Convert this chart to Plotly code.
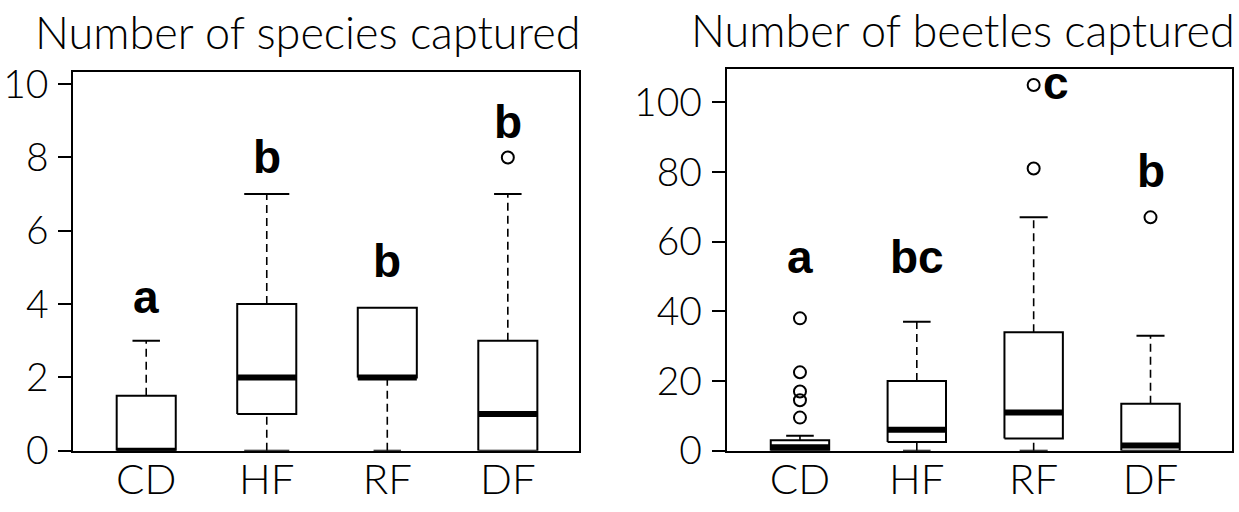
import plotly.graph_objects as go

groups = ["CD", "HF", "RF", "DF"]

# ---- Panel 1: Number of species captured ----
sp_lo = [0, 0, 0, 0]
sp_q1 = [0, 1, 2, 0]
sp_med = [0, 2, 2, 1]
sp_q3 = [1.5, 4, 3.9, 3]
sp_hi = [3, 7, 3.9, 7]
sp_out_grp = ["DF"]
sp_out_val = [8]
sp_letters = ["a", "b", "b", "b"]
sp_letter_val = [4.19, 8.0, 5.18, 8.96]

# ---- Panel 2: Number of beetles captured ----
bt_lo = [0, 0, 0, 0]
bt_q1 = [0, 2.5, 3.5, 0]
bt_med = [1, 6, 11, 1.5]
bt_q3 = [3, 20, 34, 13.5]
bt_hi = [4.3, 37, 67, 33]
bt_out_grp = ["CD", "CD", "CD", "CD", "CD", "RF", "RF", "DF"]
bt_out_val = [38, 22.5, 17, 14.5, 9.5, 81, 105, 67]
bt_letters = ["a", "bc", "c", "b"]
bt_letter_val = [55.5, 55.5, 105.7, 80.4]

titles = ["Number of species captured", "Number of beetles captured"]

# ---- styles ----
FONT = "Liberation Sans, Arial, sans-serif"
THIN = "Lato, Liberation Sans, sans-serif"
panels = [
    dict(lo=sp_lo, q1=sp_q1, med=sp_med, q3=sp_q3, hi=sp_hi,
         og=sp_out_grp, ov=sp_out_val, let=sp_letters, lv=sp_letter_val,
         xa="x", ya="y", half=0.245, caps=[0.114, 0.187, 0.114, 0.114],
         let_dx=[0, 0, 0, 0]),
    dict(lo=bt_lo, q1=bt_q1, med=bt_med, q3=bt_q3, hi=bt_hi,
         og=bt_out_grp, ov=bt_out_val, let=bt_letters, lv=bt_letter_val,
         xa="x2", ya="y2", half=0.25, caps=[0.118, 0.118, 0.12, 0.12],
         let_dx=[0, 0, 0.19, 0]),
]

fig = go.Figure()
annotations = []

for p in panels:
    bx, by, mx, my, wx, wy, cx, cy = [], [], [], [], [], [], [], []
    for i, g in enumerate(groups):
        c = i + 1
        h = p["half"]
        bx += [c - h, c + h, c + h, c - h, c - h, None]
        by += [p["q1"][i], p["q1"][i], p["q3"][i], p["q3"][i], p["q1"][i], None]
        mx += [c - h, c + h, None]
        my += [p["med"][i], p["med"][i], None]
        cw = p["caps"][i]
        if p["hi"][i] > p["q3"][i]:
            wx += [c, c, None]
            wy += [p["q3"][i], p["hi"][i], None]
            cx += [c - cw, c + cw, None]
            cy += [p["hi"][i], p["hi"][i], None]
        if p["lo"][i] < p["q1"][i]:
            wx += [c, c, None]
            wy += [p["lo"][i], p["q1"][i], None]
            cx += [c - cw, c + cw, None]
            cy += [p["lo"][i], p["lo"][i], None]
    common = dict(xaxis=p["xa"], yaxis=p["ya"], showlegend=False,
                  hoverinfo="skip", cliponaxis=False)
    fig.add_trace(go.Scatter(x=wx, y=wy, mode="lines",
                             line=dict(color="black", width=1.6, dash="8px,5px"), **common))
    fig.add_trace(go.Scatter(x=cx, y=cy, mode="lines",
                             line=dict(color="black", width=2), **common))
    fig.add_trace(go.Scatter(x=bx, y=by, mode="lines",
                             line=dict(color="black", width=2), **common))
    fig.add_trace(go.Scatter(x=mx, y=my, mode="lines",
                             line=dict(color="black", width=6), **common))
    ox = [groups.index(g) + 1 for g in p["og"]]
    fig.add_trace(go.Scatter(x=ox, y=p["ov"], mode="markers",
                             marker=dict(symbol="circle-open", size=12, color="black",
                                         line=dict(width=2, color="black")), **common))
    for i, t in enumerate(p["let"]):
        annotations.append(dict(
            x=i + 1 + p["let_dx"][i], y=p["lv"][i], xref=p["xa"], yref=p["ya"],
            text="<b>%s</b>" % t, showarrow=False, xanchor="center", yanchor="middle",
            font=dict(family=FONT, size=46, color="black")))

annotations.append(dict(x=308 / 1239, y=0.938, xref="paper", yref="paper",
                        text=titles[0], showarrow=False, xanchor="center", yanchor="middle",
                        font=dict(family=THIN, size=45, weight=300, color="black")))
annotations.append(dict(x=963 / 1239, y=0.942, xref="paper", yref="paper",
                        text=titles[1], showarrow=False, xanchor="center", yanchor="middle",
                        font=dict(family=THIN, size=45, weight=300, color="black")))

xcommon = dict(tickmode="array", tickvals=[1, 2, 3, 4], ticktext=groups,
               showline=True, mirror=True, linecolor="black", linewidth=2,
               ticks="", showgrid=False, zeroline=False, automargin=False,
               ticklabelstandoff=-9,
               tickfont=dict(family=THIN, size=42, weight=300, color="black"))
ycommon = dict(showline=True, mirror=True, linecolor="black", linewidth=2,
               ticks="outside", ticklen=13, tickwidth=2, tickcolor="black",
               showgrid=False, zeroline=False, automargin=False,
               ticklabelstandoff=2,
               tickfont=dict(family=THIN, size=39, weight=300, color="black"))

fig.update_layout(
    template="none",
    width=1239, height=512,
    margin=dict(l=0, r=0, t=0, b=0, pad=0),
    paper_bgcolor="white", plot_bgcolor="white",
    xaxis=dict(domain=[73.3 / 1239, 578.7 / 1239], range=[0.395, 4.588], anchor="y", **xcommon),
    yaxis=dict(domain=[1 - 450.7 / 512, 1 - 71.7 / 512], range=[0, 10.34], anchor="x",
               tickvals=[0, 2, 4, 6, 8, 10], **ycommon),
    xaxis2=dict(domain=[726.7 / 1239, 1232.3 / 1239], range=[0.373, 4.70], anchor="y2", **xcommon),
    yaxis2=dict(domain=[1 - 450.7 / 512, 1 - 69.3 / 512], range=[0, 109.5], anchor="x2",
                tickvals=[0, 20, 40, 60, 80, 100], **ycommon),
    annotations=annotations,
)

fig.write_html("out.html", config={"displayModeBar": False},
               post_script="document.body.style.margin='0px';")
